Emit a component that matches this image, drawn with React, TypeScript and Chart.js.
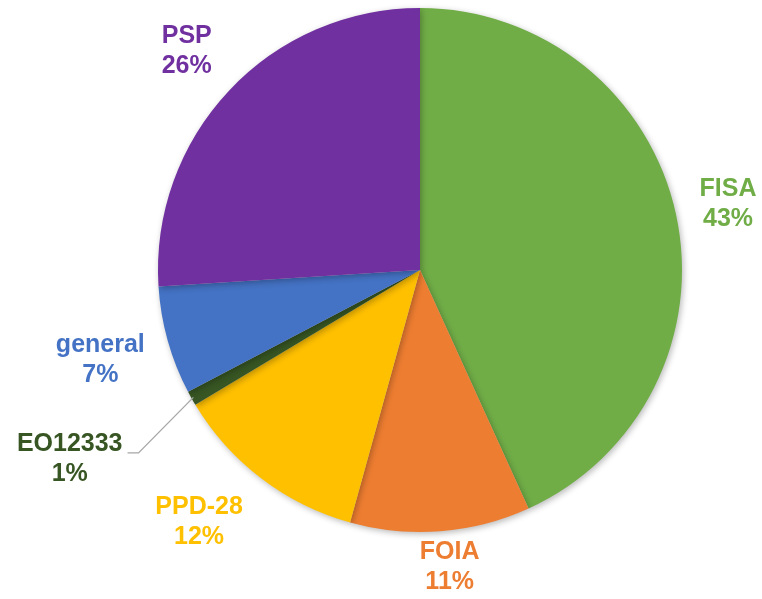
import React, { useEffect, useRef } from "react";
import { Chart, registerables } from "chart.js";

Chart.register(...registerables);

const categories = ["FISA", "FOIA", "PPD-28", "EO12333", "general", "PSP"];
const values = [43.2, 11.1, 12.1, 0.9, 6.7, 26.0];
const percentLabels = ["43%", "11%", "12%", "1%", "7%", "26%"];
const colors = ["#70AD47", "#ED7D31", "#FFC000", "#375623", "#4472C4", "#7030A0"];

// label placement: extra radial distance beyond the pie edge, and angle tweak (deg) from slice middle
const labelExtra = [53, 37, 73, 136, 70, 58];
const labelAngleAdj = [0.2, -1.2, 4, 1, 0, 0];
const leaderLines = [false, false, false, true, false, false];

const shadowPlugin = {
  id: "pieShadow",
  beforeDatasetsDraw(chart: any) {
    const ctx = chart.ctx;
    ctx.save();
    ctx.shadowColor = "rgba(0,0,0,0.28)";
    ctx.shadowBlur = 6;
    ctx.shadowOffsetX = 1.5;
    ctx.shadowOffsetY = 2;
  },
  afterDatasetsDraw(chart: any) {
    chart.ctx.restore();
  },
};

const labelPlugin = {
  id: "outsideLabels",
  afterDraw(chart: any) {
    const ctx = chart.ctx;
    const meta = chart.getDatasetMeta(0);
    ctx.save();
    ctx.font = "bold 25px 'Liberation Sans', Arial, sans-serif";
    ctx.textAlign = "center";
    ctx.textBaseline = "middle";
    meta.data.forEach((arc: any, i: number) => {
      const { x, y, startAngle, endAngle, outerRadius } = arc.getProps(
        ["x", "y", "startAngle", "endAngle", "outerRadius"],
        true
      );
      const mid = (startAngle + endAngle) / 2 + (labelAngleAdj[i] * Math.PI) / 180;
      const d = outerRadius + labelExtra[i];
      const lx = x + Math.cos(mid) * d;
      const ly = y + Math.sin(mid) * d;
      const lineGap = 30;
      ctx.fillStyle = colors[i];
      ctx.fillText(categories[i], lx, ly - lineGap / 2);
      ctx.fillText(percentLabels[i], lx, ly + lineGap / 2);
      if (leaderLines[i]) {
        const w = ctx.measureText(categories[i]).width;
        const realMid = (startAngle + endAngle) / 2;
        const ax = x + Math.cos(realMid) * (outerRadius - 2);
        const ay = y + Math.sin(realMid) * (outerRadius - 2);
        const hy = ly - 6;
        const hx0 = lx + w / 2 + 5;
        const hx1 = hx0 + 11;
        ctx.strokeStyle = "#A6A6A6";
        ctx.lineWidth = 1.3;
        ctx.beginPath();
        ctx.moveTo(hx0, hy);
        ctx.lineTo(hx1, hy);
        ctx.lineTo(ax, ay);
        ctx.stroke();
      }
    });
    ctx.restore();
  },
};

export default function App() {
  const canvasRef = useRef<HTMLCanvasElement | null>(null);
  useEffect(() => {
    if (!canvasRef.current) return;
    const chart = new Chart(canvasRef.current, {
      type: "pie",
      data: {
        labels: categories,
        datasets: [
          {
            data: values,
            backgroundColor: colors,
            borderWidth: 0,
          },
        ],
      },
      options: {
        animation: false,
        responsive: false,
        maintainAspectRatio: false,
        layout: { padding: { left: 158, right: 80, top: 8, bottom: 67 } },
        plugins: {
          legend: { display: false },
          tooltip: { enabled: false },
        },
      },
      plugins: [shadowPlugin, labelPlugin],
    });
    return () => chart.destroy();
  }, []);
  return (
    <div style={{ position: "fixed", left: 0, top: 0, width: 762, height: 599, background: "#fff" }}>
      <canvas ref={canvasRef} width={762} height={599} style={{ display: "block" }} />
    </div>
  );
}
